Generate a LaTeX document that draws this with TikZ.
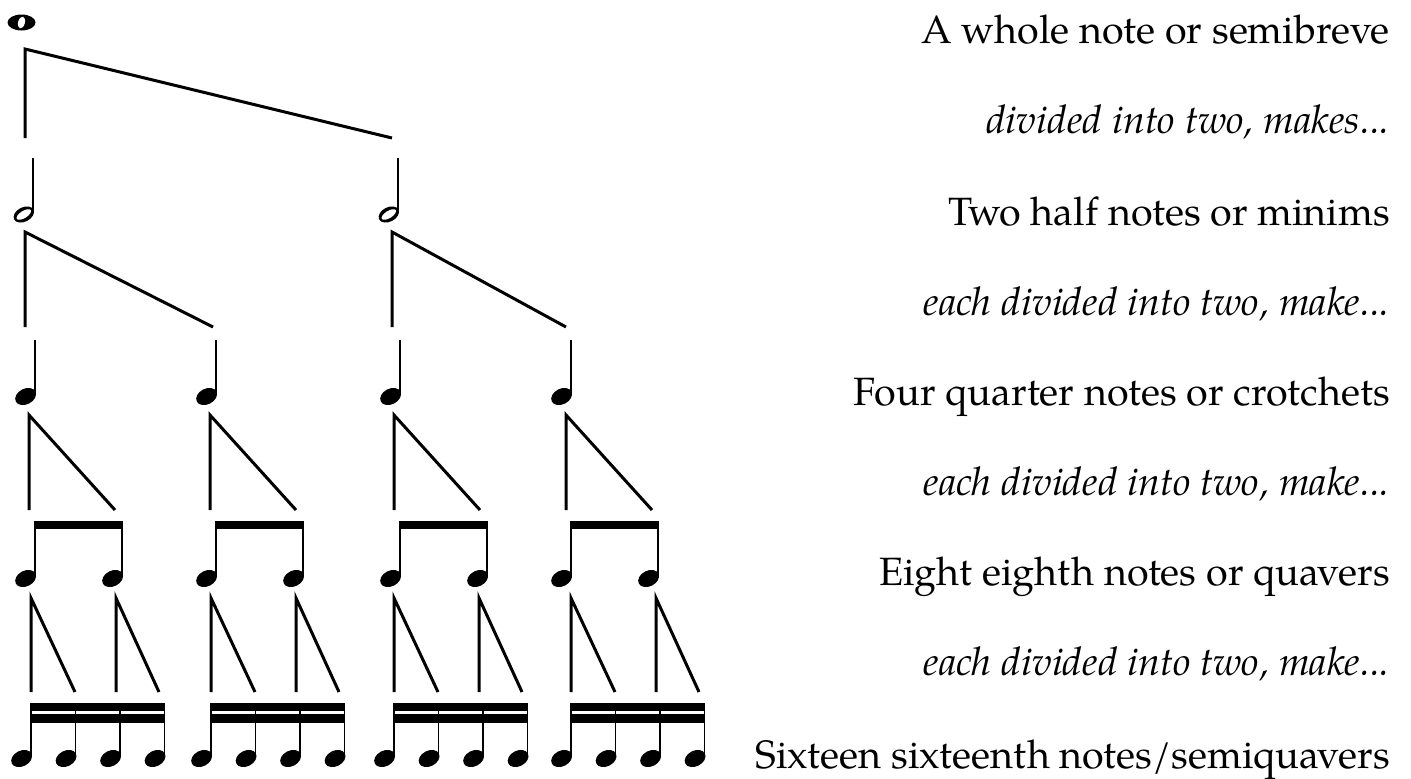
\documentclass[tikz,border=0pt]{standalone}
\usepackage{fontspec}
\setmainfont{texgyrepagella}[Extension=.otf, UprightFont=*-regular, ItalicFont=*-italic, BoldFont=*-bold, BoldItalicFont=*-bolditalic]
\begin{document}
\begin{tikzpicture}[x=1pt,y=-1pt,
  bracketline/.style={line width=3pt, line join=miter, line cap=butt},
  stemline/.style={line width=1.9pt},
  nametext/.style={anchor=base east, inner sep=0pt, font=\fontsize{39.5}{44}\selectfont},
  divtext/.style={nametext, font=\fontsize{39.5}{44}\selectfont\itshape},
  blackhead/.pic={\fill[shift={(-9.4,0.5)}, rotate=27] (0,0) ellipse [x radius=11pt, y radius=7.8pt];},
  openhead/.pic={
    \fill[shift={(-9.2,0.5)}, rotate=27] (0,0) ellipse [x radius=10.8pt, y radius=7.2pt];
    \fill[white, shift={(-9.2,0.5)}, rotate=32] (0,0) ellipse [x radius=8.2pt, y radius=3.6pt];}
]
\fill[white] (0,0) rectangle (1411,779);
\useasboundingbox (0,0) rectangle (1411,779);

% ---- semibreve ----
\coordinate (whole) at (21.5,22.5);
\fill (whole) ellipse [x radius=14pt, y radius=8pt];
\fill[white, rotate around={-15:(whole)}] (whole) ellipse [x radius=3.4pt, y radius=6pt];

% ---- first division ----
\coordinate (d1foot) at (25,138);
\coordinate (d1top)  at (25,49);
\coordinate (d1end)  at (392,138);
\draw[bracketline] (d1foot) -- (d1top) -- (d1end);

% ---- minims ----
\foreach \x [count=\i] in {33,398} {
  \coordinate (half\i) at (\x,214);
  \pic at (half\i) {openhead};
  \draw[stemline] (\x,212) -- (\x,158);
}

% ---- second division ----
\foreach \v/\e [count=\i] in {25/213,392/566} {
  \coordinate (d2foot\i) at (\v,327);
  \coordinate (d2top\i)  at (\v,232);
  \coordinate (d2end\i)  at (\e,327);
  \draw[bracketline] (d2foot\i) -- (d2top\i) -- (d2end\i);
}

% ---- crotchets ----
\foreach \x [count=\i] in {35,216,400,571} {
  \coordinate (quarter\i) at (\x,396);
  \pic at (quarter\i) {blackhead};
  \draw[stemline] (\x,394) -- (\x,340);
}

% ---- third division ----
\foreach \v [count=\i] in {29,210,394,566} {
  \coordinate (d3foot\i) at (\v,510);
  \coordinate (d3top\i)  at (\v,415);
  \coordinate (d3end\i)  at (\v+86,510);
  \draw[bracketline] (d3foot\i) -- (d3top\i) -- (d3end\i);
}

% ---- quavers, beamed in pairs ----
\foreach \q [count=\g] in {35,216,400,571} {
  \fill (\q-0.95,521) rectangle (\q+87.95,529);
  \foreach \d [count=\k] in {0,87} {
    \coordinate (eighth\g\k) at (\q+\d,578);
    \pic at (eighth\g\k) {blackhead};
    \draw[stemline] (\q+\d,576) -- (\q+\d,521);
  }
}

% ---- fourth division ----
\foreach \s [count=\g] in {31,211,394,571} {
  \foreach \d/\e [count=\k] in {0/44,85/128} {
    \coordinate (d4foot\g\k) at (\s+\d,692);
    \coordinate (d4top\g\k)  at (\s+\d,598);
    \coordinate (d4end\g\k)  at (\s+\e,692);
    \draw[bracketline] (d4foot\g\k) -- (d4top\g\k) -- (d4end\g\k);
  }
}

% ---- semiquavers, beamed in fours ----
\foreach \s [count=\g] in {31,211,394,571} {
  \fill (\s-0.95,703) rectangle (\s+134.45,711);
  \fill (\s-0.95,714) rectangle (\s+134.45,723);
  \foreach \d [count=\k] in {0,44.5,89,133.5} {
    \coordinate (sixteenth\g\k) at (\s+\d,758);
    \pic at (sixteenth\g\k) {blackhead};
    \draw[stemline] (\s+\d,756) -- (\s+\d,703);
  }
}

% ---- captions ----
\node[nametext] (t1) at (1390,43)  {A whole note or semibreve};
\node[divtext]  (t2) at (1390,133) {divided into two, makes...};
\node[nametext] (t3) at (1390,225) {Two half notes or minims};
\node[divtext]  (t4) at (1390,315) {each divided into two, make...};
\node[nametext] (t5) at (1390,405) {Four quarter notes or crotchets};
\node[divtext]  (t6) at (1390,495) {each divided into two, make...};
\node[nametext] (t7) at (1390,585) {Eight eighth notes or quavers};
\node[divtext]  (t8) at (1390,675) {each divided into two, make...};
\node[nametext] (t9) at (1390,768) {Sixteen sixteenth notes/semiquavers};
\end{tikzpicture}
\end{document}
